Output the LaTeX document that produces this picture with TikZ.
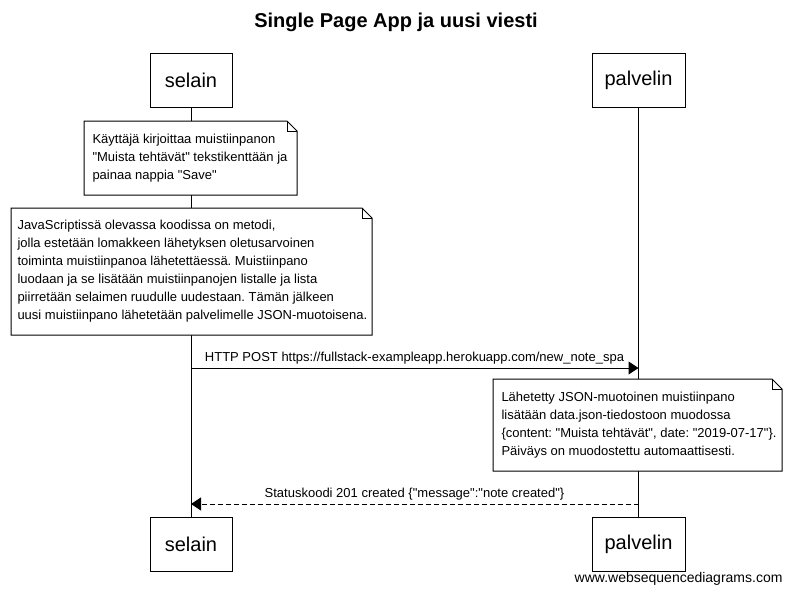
\documentclass[tikz,border=0pt]{standalone}
\usepackage{fontspec}
\setmainfont{Liberation Sans}[Ligatures=TeXOff]
\usetikzlibrary{arrows.meta}
\frenchspacing
\begin{document}
\begin{tikzpicture}[x=1pt,y=-1pt,line width=1pt,
  actor/.style={draw,fill=white,minimum width=82pt,minimum height=54pt,inner sep=0pt,font=\fontsize{20}{24}\selectfont},
  notebg/.style={draw=none,inner sep=0pt,anchor=north west},
  noteline/.style={draw,fill=white,line join=miter},
  notetext/.style={inner sep=0pt,anchor=west,align=left,font=\fontsize{13}{18}\selectfont},
  lifeline/.style={draw},
  msg/.style={draw,-{Triangle[length=10pt,width=13pt]}},
  reply/.style={draw,dash pattern=on 5pt off 3pt,-{Triangle[length=10pt,width=13pt]}},
  msglabel/.style={font=\fontsize{13}{16}\selectfont,inner sep=0pt}
]
\useasboundingbox (0,0) rectangle (792,595);
\fill[white] (0,0) rectangle (792,595);

\node[font=\bfseries\fontsize{20}{24}\selectfont] (title) at (396,22) {Single Page App ja uusi viesti};

% participants
\node[actor] (s1) at (191,80) {selain};
\node[actor,minimum width=93pt] (p1) at (638.5,80) {palvelin};
\node[actor] (s2) at (191,544) {selain};
\node[actor,minimum width=93pt] (p2) at (638.5,544) {palvelin};

\draw[lifeline] (s1.south) -- (s2.north);
\draw[lifeline] (p1.south) -- (p2.north);

% note 1
\node[notebg,minimum width=212pt,minimum height=73pt] (n1) at (84,121) {};
\draw[noteline] (n1.north west) -- ([xshift=-10pt]n1.north east) -- ([yshift=-10pt]n1.north east) -- (n1.south east) -- (n1.south west) -- cycle;
\draw ([xshift=-10pt]n1.north east) -- ++(0,10) -- ++(10,0);
\node[notetext] (t1) at ([xshift=8pt]n1.west) {Käyttäjä kirjoittaa muistiinpanon\\"Muista tehtävät" tekstikenttään ja\\painaa nappia "Save"};

% note 2
\node[notebg,minimum width=360pt,minimum height=126pt] (n2) at (11,208) {};
\draw[noteline] (n2.north west) -- ([xshift=-10pt]n2.north east) -- ([yshift=-10pt]n2.north east) -- (n2.south east) -- (n2.south west) -- cycle;
\draw ([xshift=-10pt]n2.north east) -- ++(0,10) -- ++(10,0);
\node[notetext] (t2) at ([xshift=6pt]n2.west) {JavaScriptissä olevassa koodissa on metodi,\\jolla estetään lomakkeen lähetyksen oletusarvoinen\\toiminta muistiinpanoa lähetettäessä. Muistiinpano\\luodaan ja se lisätään muistiinpanojen listalle ja lista\\piirretään selaimen ruudulle uudestaan. Tämän jälkeen\\uusi muistiinpano lähetetään palvelimelle JSON-muotoisena.};

% message 1
\coordinate (m1s) at (191,368);
\coordinate (m1e) at (638.5,368);
\draw[msg] (m1s) -- (m1e);
\node[msglabel] (l1) at (414.5,358) {HTTP POST https://fullstack-exampleapp.herokuapp.com/new\_note\_spa};

% note 3
\node[notebg,minimum width=288pt,minimum height=91pt] (n3) at (493,379) {};
\draw[noteline] (n3.north west) -- ([xshift=-10pt]n3.north east) -- ([yshift=-10pt]n3.north east) -- (n3.south east) -- (n3.south west) -- cycle;
\draw ([xshift=-10pt]n3.north east) -- ++(0,10) -- ++(10,0);
\node[notetext] (t3) at ([xshift=8pt]n3.west) {Lähetetty JSON-muotoinen muistiinpano\\lisätään data.json-tiedostoon muodossa\\\{content: "Muista tehtävät", date: "2019-07-17"\}.\\Päiväys on muodostettu automaattisesti.};

% message 2
\coordinate (m2s) at (638.5,504);
\coordinate (m2e) at (191,504);
\draw[reply] (m2s) -- (m2e);
\node[msglabel] (l2) at (414.5,494) {Statuskoodi 201 created \{"message":"note created"\}};

\node[font=\fontsize{14}{17}\selectfont,inner sep=0pt,anchor=east] (foot) at (783,579) {www.websequencediagrams.com};
\end{tikzpicture}
\end{document}
